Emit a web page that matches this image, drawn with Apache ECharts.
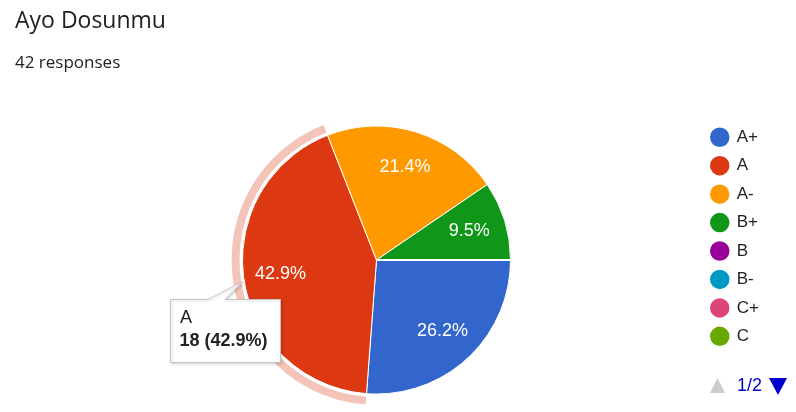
<!DOCTYPE html>
<html><head><meta charset="utf-8">
<script src="https://cdn.jsdelivr.net/npm/echarts@6/dist/echarts.min.js"></script>
<style>html,body{margin:0;padding:0;background:#fff}#c{width:796px;height:412px}</style>
</head><body><div id="c"></div>
<script>
const chartTitle = 'Ayo Dosunmu';
const responsesLabel = '42 responses';
const categories = ['A+', 'A', 'A-', 'B+', 'B', 'B-', 'C+', 'C', 'C-', 'D+', 'D', 'D-', 'F'];
const counts = [11, 18, 9, 4, 0, 0, 0, 0, 0, 0, 0, 0, 0];
const colors = ['#3366cc', '#dc3912', '#ff9900', '#109618', '#990099', '#0099c6', '#dd4477', '#66aa00', '#b82e2e', '#316395', '#994499', '#22aa99', '#aaaa11'];
const highlighted = 'A';
const legendPageSize = 8;
const legendPage = 1;

const total = counts.reduce((a, b) => a + b, 0);
const pct = v => (v / total * 100).toFixed(1) + '%';
const hiIdx = categories.indexOf(highlighted);
const pageCount = Math.ceil(categories.length / legendPageSize);
const CX = 376.5, CY = 260, R = 134;
const font = 'Liberation Sans, Arial, sans-serif';

const mainData = categories.map((c, i) => ({ name: c, value: counts[i], itemStyle: { color: colors[i] } }));
const labelData = categories.map((c, i) => ({ name: c, value: counts[i] }));
const ringData = categories.map((c, i) => ({ name: c, value: counts[i], itemStyle: { color: i === hiIdx ? '#f5c4b8' : 'rgba(0,0,0,0)' } }));

const chart = echarts.init(document.getElementById('c'), null, { renderer: 'canvas' });
chart.setOption({
  animation: false,
  title: [
    { text: chartTitle, left: 15, top: 10.3, padding: 0, textStyle: { fontFamily: 'Open Sans', fontSize: 23, fontWeight: 'normal', color: '#202124' } },
    { text: responsesLabel, left: 15, top: 54.3, padding: 0, textStyle: { fontFamily: 'Open Sans', fontSize: 17, fontWeight: 'normal', color: '#202124' } }
  ],
  legend: {
    orient: 'vertical', left: 708, top: 125.5, padding: 0,
    itemWidth: 24, itemHeight: 21.5, itemGap: 4.94, icon: 'circle',
    data: categories.slice((legendPage - 1) * legendPageSize, legendPage * legendPageSize),
    textStyle: { fontFamily: font, fontSize: 17, color: '#222' }
  },
  series: [
    {
      type: 'pie', center: [CX, CY], radius: [0, R], startAngle: 0, clockwise: true,
      data: mainData, label: { show: false }, labelLine: { show: false },
      itemStyle: { borderColor: '#fff', borderWidth: 1 }, emphasis: { disabled: true }, silent: true
    },
    {
      type: 'pie', center: [CX, CY], radius: [137, 145], startAngle: 0, clockwise: true,
      data: ringData, label: { show: false }, labelLine: { show: false },
      emphasis: { disabled: true }, silent: true, legendHoverLink: false
    },
    {
      type: 'pie', center: [CX, CY], radius: [54, R], startAngle: 0, clockwise: true,
      data: labelData, itemStyle: { color: 'rgba(0,0,0,0)' },
      label: {
        show: true, position: 'inside', color: '#fff', fontSize: 18, fontFamily: font,
        formatter: p => p.value > 0 ? pct(p.value) : ''
      },
      labelLine: { show: false }, emphasis: { disabled: true }, silent: true, legendHoverLink: false
    }
  ],
  graphic: [
    {
      type: 'polygon', z: 100,
      shape: { points: [[170.5, 299.5], [208, 299.5], [243, 281.5], [225, 299.5], [280.5, 299.5], [280.5, 362.5], [170.5, 362.5]] },
      style: { fill: '#fff', stroke: '#c6c6c6', lineWidth: 1, shadowColor: 'rgba(0,0,0,0.18)', shadowBlur: 3, shadowOffsetX: 1, shadowOffsetY: 1 }
    },
    {
      type: 'text', z: 101, x: 180, y: 317.8,
      style: { text: categories[hiIdx], fontFamily: font, fontSize: 18, fill: '#222', verticalAlign: 'middle' }
    },
    {
      type: 'text', z: 101, x: 179.5, y: 341.1,
      style: { text: counts[hiIdx] + ' (' + pct(counts[hiIdx]) + ')', fontFamily: font, fontSize: 18, fontWeight: 'bold', fill: '#222', verticalAlign: 'middle' }
    },
    {
      type: 'polygon', z: 100,
      shape: { points: [[710, 393], [717.5, 378], [725, 393]] },
      style: { fill: legendPage > 1 ? '#0000cc' : '#cccccc' }
    },
    {
      type: 'text', z: 101, x: 737, y: 386,
      style: { text: legendPage + '/' + pageCount, fontFamily: font, fontSize: 18, fill: '#0000cc', verticalAlign: 'middle' }
    },
    {
      type: 'polygon', z: 100,
      shape: { points: [[769, 378], [787, 378], [778, 395]] },
      style: { fill: legendPage < pageCount ? '#0000cc' : '#cccccc' }
    }
  ]
});
</script></body></html>
